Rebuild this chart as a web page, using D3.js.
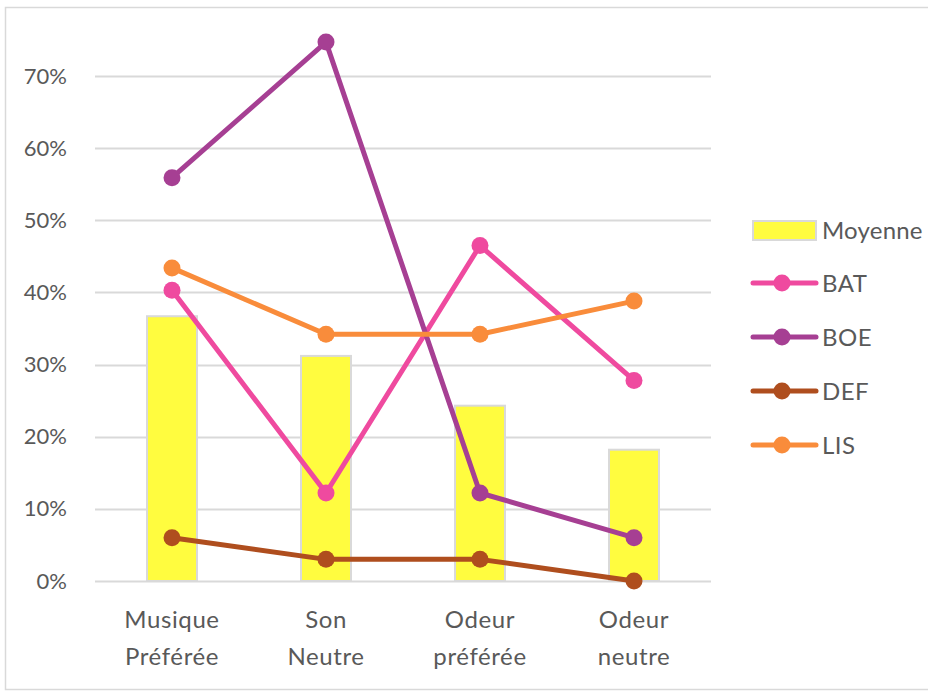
<!DOCTYPE html>
<html>
<head>
<meta charset="utf-8">
<script src="https://cdn.jsdelivr.net/npm/d3@7"></script>
<style>
  html, body { margin: 0; padding: 0; background: #fff; }
  svg { display: block; }
  text { font-family: Lato, "Open Sans", sans-serif; fill: #595959; }
</style>
</head>
<body>
<svg id="chart" width="928" height="692"></svg>
<script>
// Categories (two-line labels)
const categories = ["Musique Préférée", "Son Neutre", "Odeur préférée", "Odeur neutre"];
const categoryLines = [["Musique", "Préférée"], ["Son", "Neutre"], ["Odeur", "préférée"], ["Odeur", "neutre"]];

// Bar series
const moyenne = [0.367, 0.312, 0.243, 0.182];

// Line series
const bat = [0.403, 0.122, 0.465, 0.278];
const boe = [0.559, 0.747, 0.122, 0.060];
const def = [0.060, 0.030, 0.030, 0.000];
const lis = [0.434, 0.342, 0.342, 0.388];

const yTicks = [0, 0.1, 0.2, 0.3, 0.4, 0.5, 0.6, 0.7];

const lineSeries = [
  { name: "BAT", values: bat, color: "#EF4A9F" },
  { name: "BOE", values: boe, color: "#A63F93" },
  { name: "DEF", values: def, color: "#AF4E1E" },
  { name: "LIS", values: lis, color: "#F98C3B" }
];

const svg = d3.select("#chart");

// Outer chart frame
svg.append("rect")
  .attr("x", 5.5).attr("y", 7.5)
  .attr("width", 940).attr("height", 682)
  .attr("fill", "none").attr("stroke", "#d9d9d9").attr("stroke-width", 1.5);

const plot = { left: 95, right: 711, top: 40, bottom: 581 };

const x = d3.scaleBand()
  .domain(categories)
  .range([plot.left, plot.right]);

const y = d3.scaleLinear()
  .domain([0, 0.7])
  .range([plot.bottom, 76]);

// Gridlines
svg.append("g")
  .selectAll("line")
  .data(yTicks)
  .join("line")
  .attr("x1", plot.left).attr("x2", plot.right)
  .attr("y1", d => Math.round(y(d)) + 0.5).attr("y2", d => Math.round(y(d)) + 0.5)
  .attr("stroke", "#d9d9d9").attr("stroke-width", 2);

// Y axis labels
const yAxis = d3.axisLeft(y)
  .tickValues(yTicks)
  .tickFormat(d3.format(".0%"))
  .tickSize(0)
  .tickPadding(28);

const yg = svg.append("g")
  .attr("transform", `translate(${plot.left},0)`)
  .call(yAxis);
yg.select(".domain").remove();
yg.selectAll("text")
  .attr("font-size", 22)
  .style("font-family", "Lato, sans-serif")
  .attr("fill", "#595959");

// Bars
const barW = 50;
svg.append("g")
  .selectAll("rect")
  .data(moyenne)
  .join("rect")
  .attr("x", (d, i) => x(categories[i]) + x.bandwidth() / 2 - barW / 2)
  .attr("y", d => y(d))
  .attr("width", barW)
  .attr("height", d => y(0) - y(d))
  .attr("fill", "#FFFC3F")
  .attr("stroke", "#d9d9d9")
  .attr("stroke-width", 2);

// Lines and markers
const line = d3.line()
  .x((d, i) => x(categories[i]) + x.bandwidth() / 2)
  .y(d => y(d));

lineSeries.forEach(s => {
  const g = svg.append("g");
  g.append("path")
    .datum(s.values)
    .attr("d", line)
    .attr("fill", "none")
    .attr("stroke", s.color)
    .attr("stroke-width", 5)
    .attr("stroke-linejoin", "round")
    .attr("stroke-linecap", "round");
  g.selectAll("circle")
    .data(s.values)
    .join("circle")
    .attr("cx", (d, i) => x(categories[i]) + x.bandwidth() / 2)
    .attr("cy", d => y(d))
    .attr("r", 8.5)
    .attr("fill", s.color);
});

// Category labels
const xg = svg.append("g");
categoryLines.forEach((lines, i) => {
  const cx = x(categories[i]) + x.bandwidth() / 2;
  const t = xg.append("text")
    .attr("x", cx)
    .attr("y", 628)
    .attr("text-anchor", "middle")
    .attr("font-size", 24)
    .attr("letter-spacing", 0.6);
  lines.forEach((ln, j) => {
    t.append("tspan").attr("x", cx).attr("dy", j === 0 ? 0 : 37).text(ln);
  });
});

// Legend
const legend = svg.append("g");
legend.append("rect")
  .attr("x", 753).attr("y", 221)
  .attr("width", 63).attr("height", 19)
  .attr("fill", "#FFFC3F").attr("stroke", "#d9d9d9").attr("stroke-width", 2);
legend.append("text")
  .attr("x", 822).attr("y", 230).attr("dy", "0.36em")
  .attr("font-size", 24).attr("letter-spacing", 0.2).text("Moyenne");

lineSeries.forEach((s, i) => {
  const ly = 283 + i * 54;
  legend.append("line")
    .attr("x1", 753).attr("x2", 816)
    .attr("y1", ly).attr("y2", ly)
    .attr("stroke", s.color).attr("stroke-width", 5)
    .attr("stroke-linecap", "round");
  legend.append("circle")
    .attr("cx", 782).attr("cy", ly).attr("r", 8.5)
    .attr("fill", s.color);
  legend.append("text")
    .attr("x", 822).attr("y", ly).attr("dy", "0.36em")
    .attr("font-size", 24).attr("letter-spacing", 0.5).text(s.name);
});
</script>
</body>
</html>
